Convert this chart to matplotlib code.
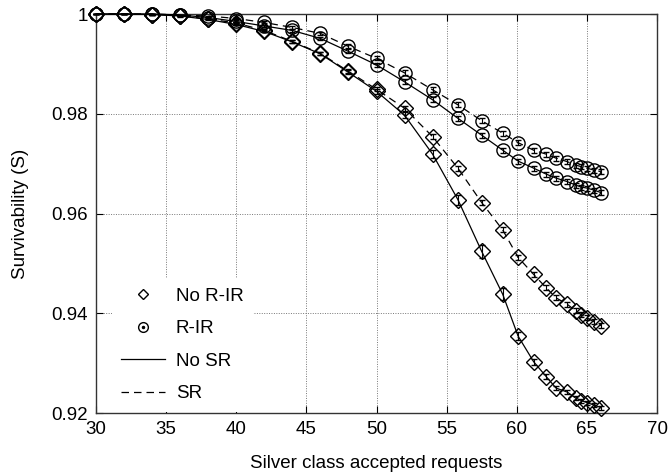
import matplotlib
matplotlib.use("Agg")
import matplotlib.pyplot as plt
from matplotlib.lines import Line2D
from matplotlib.ticker import FuncFormatter

x = [30, 32, 34, 36, 38, 40, 42, 44, 46, 48, 50, 52, 54, 55.8, 57.5, 59, 60.1,
     61.2, 62.1, 62.8, 63.6, 64.2, 64.6, 65, 65.5, 66]

no_rir_sr = [1.0, 1.0, 0.9999, 0.9997, 0.9990, 0.9982, 0.9967, 0.9945, 0.9921,
             0.9885, 0.9849, 0.9811, 0.9754, 0.9691, 0.9622, 0.9567, 0.9512,
             0.9478, 0.9451, 0.9431, 0.9418, 0.9405, 0.9397, 0.9391, 0.9383, 0.9375]
no_rir_nosr = [1.0, 1.0, 0.9999, 0.9996, 0.9989, 0.9979, 0.9965, 0.9944, 0.9920,
               0.9883, 0.9845, 0.9797, 0.9719, 0.9628, 0.9524, 0.9438, 0.9354,
               0.9303, 0.9273, 0.9250, 0.9242, 0.9230, 0.9225, 0.9221, 0.9216, 0.9211]
rir_sr = [1.0, 1.0, 1.0, 0.9998, 0.9996, 0.9991, 0.9983, 0.9973, 0.9961, 0.9935,
          0.9911, 0.9882, 0.9848, 0.9818, 0.9786, 0.9761, 0.9742, 0.9727, 0.9719,
          0.9711, 0.9704, 0.9697, 0.9694, 0.9691, 0.9687, 0.9684]
rir_nosr = [1.0, 1.0, 1.0, 0.9998, 0.9993, 0.9985, 0.9976, 0.9967, 0.9951, 0.9925,
            0.9898, 0.9864, 0.9828, 0.9791, 0.9757, 0.9727, 0.9705, 0.9691, 0.9679,
            0.9671, 0.9664, 0.9657, 0.9653, 0.9651, 0.9647, 0.9642]

err_small = [0.0, 0.0, 0.0, 0.0001, 0.0001, 0.0002, 0.0002, 0.0003, 0.0003, 0.0004,
             0.0004, 0.0005, 0.0005, 0.0005, 0.0005, 0.0005, 0.0005, 0.0005, 0.0005,
             0.0005, 0.0005, 0.0005, 0.0005, 0.0005, 0.0005, 0.0005]
err_nosr_dia = [0.0, 0.0, 0.0, 0.0001, 0.0001, 0.0002, 0.0002, 0.0003, 0.0003, 0.0004,
                0.0005, 0.0006, 0.0008, 0.0010, 0.0013, 0.0012, 0.0008, 0.0006, 0.0005,
                0.0004, 0.0004, 0.0004, 0.0004, 0.0004, 0.0004, 0.0004]

xticks = [30, 35, 40, 45, 50, 55, 60, 65, 70]
yticks = [0.92, 0.94, 0.96, 0.98, 1.0]

plt.rcParams['font.family'] = ['Liberation Sans', 'DejaVu Sans']

fig = plt.figure(figsize=(6.7, 4.75), dpi=100)
ax = fig.add_axes([0.1433, 0.1305, 0.8373, 0.84])

common = dict(color='black', lw=0.9, markerfacecolor='none', markeredgecolor='black',
              markeredgewidth=1.0, ecolor='black', elinewidth=0.8, capsize=2.5,
              clip_on=False, zorder=3)

series = [
    (no_rir_nosr, err_nosr_dia, 'D', 7.8, '-'),
    (no_rir_sr, err_small, 'D', 7.8, (0, (6, 4))),
    (rir_nosr, err_small, 'o', 9.5, '-'),
    (rir_sr, err_small, 'o', 9.5, (0, (6, 4))),
]
for yv, ev, mk, ms, ls in series:
    eb = ax.errorbar(x, yv, yerr=ev, marker=mk, markersize=ms, linestyle=ls, **common)
    for c in eb[1]:
        c.set_clip_on(False)
    for c in eb[2]:
        c.set_clip_on(False)

ax.set_xlim(30, 70)
ax.set_ylim(0.92, 1.0)
ax.set_xticks(xticks)
ax.set_yticks(yticks)
ax.yaxis.set_major_formatter(FuncFormatter(lambda v, p: '%g' % round(v, 4)))

ax.grid(True, linestyle=(0, (1, 1.5)), color='#777777', linewidth=0.7)
ax.set_axisbelow(True)
ax.tick_params(direction='in', length=5, width=0.8, top=True, right=True,
               labelsize=13.5, pad=6, colors='black')
for s in ax.spines.values():
    s.set_color('#333333')
    s.set_linewidth(1.0)

ax.set_xlabel('Silver class accepted requests', fontsize=13.5, labelpad=12)
ax.set_ylabel('Survivability (S)', fontsize=13.5, labelpad=16)

h1 = Line2D([], [], marker='D', markersize=5.5, linestyle='none', markerfacecolor='none',
            markeredgecolor='black')
h2o = Line2D([], [], marker='o', markersize=7, linestyle='none', markerfacecolor='none',
             markeredgecolor='black')
h2d = Line2D([], [], marker='o', markersize=1.5, linestyle='none', color='black')
h3 = Line2D([], [], color='black', lw=0.9)
h4 = Line2D([], [], color='black', lw=0.9, linestyle=(0, (6, 4)))
leg = ax.legend([h1, (h2o, h2d), h3, h4], ['No R-IR', 'R-IR', 'No SR', 'SR'],
                loc='lower left', bbox_to_anchor=(0.012, -0.02), fontsize=13.5,
                frameon=True, fancybox=False, edgecolor='none', facecolor='white',
                framealpha=1.0, handlelength=2.3, labelspacing=0.82, borderpad=0.5,
                handletextpad=0.6)
leg.set_zorder(5)

fig.savefig('out.png', dpi=100)
